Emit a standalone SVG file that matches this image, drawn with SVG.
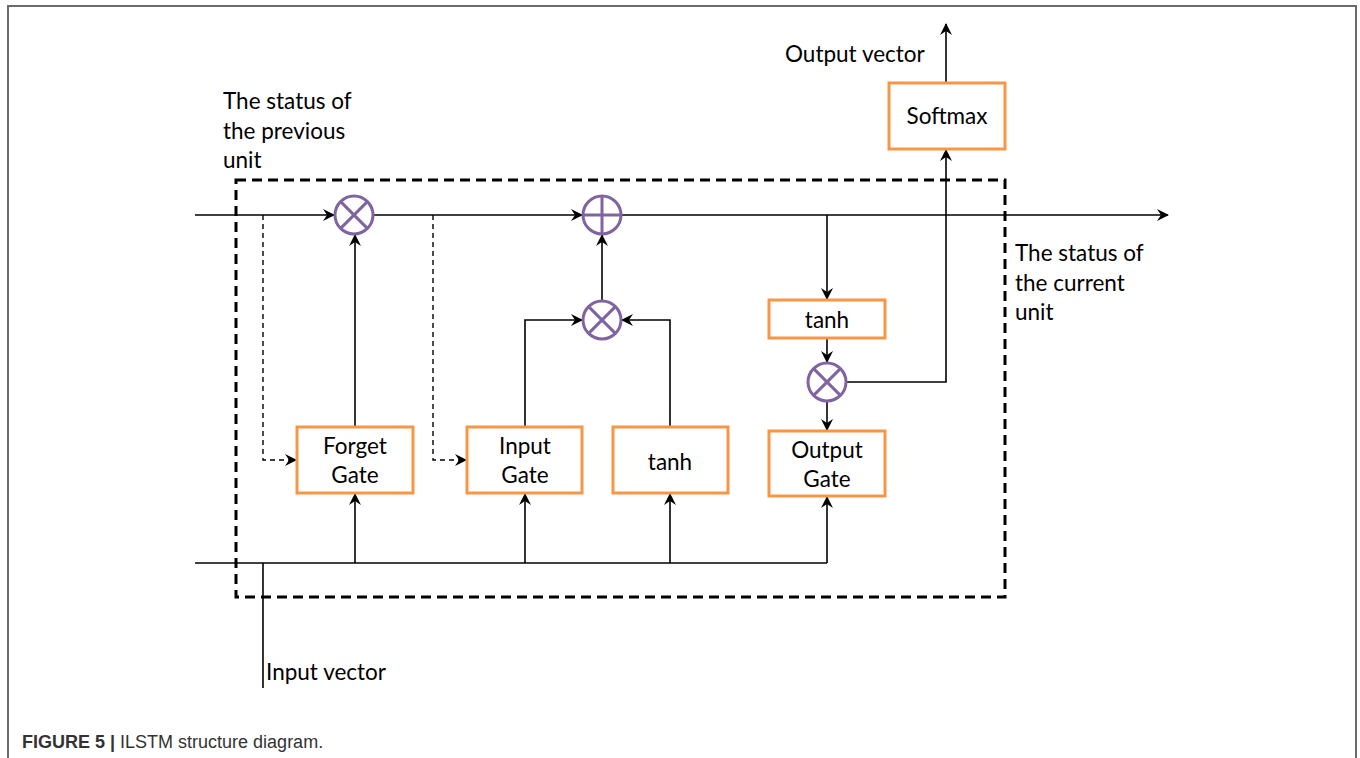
<svg xmlns="http://www.w3.org/2000/svg" width="1360" height="758" viewBox="0 0 1360 758">
  <defs>
    <marker id="arr" viewBox="0 0 12 12" refX="11" refY="6" markerWidth="12" markerHeight="12" markerUnits="userSpaceOnUse" orient="auto">
      <path d="M0,0 L12,6 L0,12 L4,6 Z" fill="#000"/>
    </marker>
    <style>
      .frame{fill:none;stroke:#6b6b6b;stroke-width:2}
      .line{fill:none;stroke:#000;stroke-width:1.6}
      .dash{fill:none;stroke:#000;stroke-width:1.4;stroke-dasharray:5,4}
      .boxdash{fill:none;stroke:#000;stroke-width:3;stroke-dasharray:10,6}
      .box{fill:#fff;stroke:#f79646;stroke-width:3}
      .op{fill:#fff;stroke:#8064a2;stroke-width:3}
      .opx{stroke:#8064a2;stroke-width:3}
      .lbl{font-family:Lato,"Open Sans","Liberation Sans",sans-serif;font-size:22.5px;fill:#000}
      .mid{text-anchor:middle}
      .cap{font-family:"Liberation Sans",Arial,sans-serif;font-size:18px;fill:#333}
    </style>
  </defs>

  <!-- page frame -->
  <path class="frame" d="M8,758 V6 H1356 V758"/>

  <!-- cell boundary -->
  <rect class="boxdash" x="236" y="180" width="769" height="417"/>

  <!-- connectors -->
  <g id="connectors">
    <!-- cell state line -->
    <line class="line" x1="195" y1="215" x2="334" y2="215" marker-end="url(#arr)"/>
    <line class="line" x1="373" y1="215" x2="582" y2="215" marker-end="url(#arr)"/>
    <line class="line" x1="621" y1="215" x2="1168" y2="215" marker-end="url(#arr)"/>
    <!-- peephole dashes -->
    <polyline class="dash" points="263,215 263,460 296,460" marker-end="url(#arr)"/>
    <polyline class="dash" points="433,215 433,460 466,460" marker-end="url(#arr)"/>
    <!-- forget gate to multiply -->
    <line class="line" x1="355" y1="427" x2="355" y2="235" marker-end="url(#arr)"/>
    <!-- input gate and tanh to multiply -->
    <polyline class="line" points="525,427 525,320 582,320" marker-end="url(#arr)"/>
    <polyline class="line" points="670,427 670,320 622,320" marker-end="url(#arr)"/>
    <line class="line" x1="602" y1="300" x2="602" y2="235" marker-end="url(#arr)"/>
    <!-- output branch -->
    <line class="line" x1="827" y1="215" x2="827" y2="299" marker-end="url(#arr)"/>
    <line class="line" x1="827" y1="338" x2="827" y2="362" marker-end="url(#arr)"/>
    <line class="line" x1="827" y1="402" x2="827" y2="430" marker-end="url(#arr)"/>
    <polyline class="line" points="847,382 946,382 946,150" marker-end="url(#arr)"/>
    <line class="line" x1="946" y1="83" x2="946" y2="24" marker-end="url(#arr)"/>
    <!-- input bus -->
    <line class="line" x1="195" y1="563" x2="827" y2="563"/>
    <line class="line" x1="827" y1="563" x2="827" y2="497" marker-end="url(#arr)"/>
    <line class="line" x1="355" y1="563" x2="355" y2="494" marker-end="url(#arr)"/>
    <line class="line" x1="525" y1="563" x2="525" y2="494" marker-end="url(#arr)"/>
    <line class="line" x1="670" y1="563" x2="670" y2="494" marker-end="url(#arr)"/>
    <line class="line" x1="263" y1="563" x2="263" y2="688"/>
  </g>

  <!-- operators -->
  <g id="mul-forget">
    <circle class="op" cx="354" cy="215" r="19"/>
    <line class="opx" x1="340.6" y1="201.6" x2="367.4" y2="228.4"/>
    <line class="opx" x1="367.4" y1="201.6" x2="340.6" y2="228.4"/>
  </g>
  <g id="add-state">
    <circle class="op" cx="602" cy="215" r="19"/>
    <line class="opx" x1="583" y1="215" x2="621" y2="215"/>
    <line class="opx" x1="602" y1="196" x2="602" y2="234"/>
  </g>
  <g id="mul-input">
    <circle class="op" cx="602" cy="320" r="19"/>
    <line class="opx" x1="588.6" y1="306.6" x2="615.4" y2="333.4"/>
    <line class="opx" x1="615.4" y1="306.6" x2="588.6" y2="333.4"/>
  </g>
  <g id="mul-output">
    <circle class="op" cx="827" cy="382" r="19"/>
    <line class="opx" x1="813.6" y1="368.6" x2="840.4" y2="395.4"/>
    <line class="opx" x1="840.4" y1="368.6" x2="813.6" y2="395.4"/>
  </g>

  <!-- blocks -->
  <g id="forget-gate">
    <rect class="box" x="297" y="427" width="116" height="66"/>
    <text class="lbl mid" x="355" y="454">Forget</text>
    <text class="lbl mid" x="355" y="483">Gate</text>
  </g>
  <g id="input-gate">
    <rect class="box" x="467" y="427" width="115" height="66"/>
    <text class="lbl mid" x="525" y="454">Input</text>
    <text class="lbl mid" x="525" y="483">Gate</text>
  </g>
  <g id="tanh-cand">
    <rect class="box" x="613" y="427" width="115" height="66"/>
    <text class="lbl mid" x="670" y="470">tanh</text>
  </g>
  <g id="output-gate">
    <rect class="box" x="769" y="431" width="116" height="65"/>
    <text class="lbl mid" x="827" y="458">Output</text>
    <text class="lbl mid" x="827" y="487">Gate</text>
  </g>
  <g id="tanh-state">
    <rect class="box" x="769" y="300" width="116" height="38"/>
    <text class="lbl mid" x="827" y="328">tanh</text>
  </g>
  <g id="softmax">
    <rect class="box" x="889" y="83" width="116" height="66"/>
    <text class="lbl mid" x="947" y="124">Softmax</text>
  </g>

  <!-- labels -->
  <g id="labels">
    <text class="lbl" x="785" y="62">Output vector</text>
    <text class="lbl" x="223" y="109">The status of</text>
    <text class="lbl" x="223" y="139">the previous</text>
    <text class="lbl" x="223" y="168">unit</text>
    <text class="lbl" x="1015" y="261">The status of</text>
    <text class="lbl" x="1015" y="291">the current</text>
    <text class="lbl" x="1015" y="320">unit</text>
    <text class="lbl" x="266" y="680">Input vector</text>
    <text class="cap" x="22" y="748"><tspan font-weight="bold">FIGURE 5 |</tspan> ILSTM structure diagram.</text>
  </g>
</svg>
